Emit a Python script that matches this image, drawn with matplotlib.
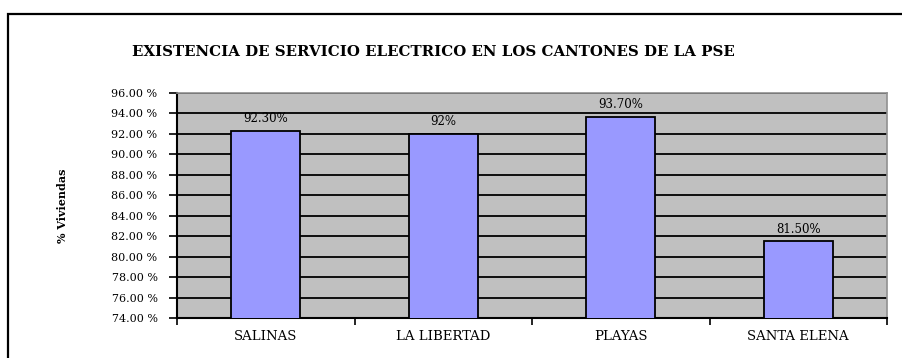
import matplotlib
matplotlib.use('Agg')
import matplotlib.pyplot as plt
from matplotlib.patches import Rectangle
import numpy as np

# datos
cantones = ['SALINAS', 'LA LIBERTAD', 'PLAYAS', 'SANTA ELENA']
viviendas = [92.3, 92.0, 93.7, 81.5]
etiquetas = ['92.30%', '92%', '93.70%', '81.50%']
yticks = [74, 76, 78, 80, 82, 84, 86, 88, 90, 92, 94, 96]

plt.rcParams['font.family'] = ['DejaVu Serif']

W, H = 902, 358
fig = plt.figure(figsize=(W / 100, H / 100), dpi=100)
fig.patch.set_facecolor('white')

# marco exterior del grafico
fig.patches.append(Rectangle((8 / W, -0.1), 1.2, 1.1 - 14 / H, transform=fig.transFigure,
                             fill=False, edgecolor='black', linewidth=1.6))

ax = fig.add_axes([177 / W, 1 - 318 / H, (887 - 177) / W, (318 - 93) / H])
ax.set_facecolor('#C0C0C0')

x = np.arange(len(cantones))
ax.bar(x, viviendas, width=0.39, color='#9999FF', edgecolor='black', linewidth=1.3, zorder=3)

for xi, v, t in zip(x, viviendas, etiquetas):
    ax.text(xi, v + 0.55, t, ha='center', va='bottom', fontsize=8.5, zorder=4)

ax.set_ylim(74, 96)
ax.set_xlim(-0.5, len(cantones) - 0.5)
ax.set_yticks(yticks)
ax.set_yticklabels(['%.2f %%' % v for v in yticks], fontsize=8)
ax.yaxis.grid(True, color='black', linewidth=1.3, zorder=1)
ax.set_axisbelow(True)

ax.set_xticks(np.arange(-0.5, len(cantones), 1.0))
ax.set_xticklabels([])
ax.set_xticks(x, minor=True)
ax.set_xticklabels(cantones, minor=True, fontsize=9.5)
ax.tick_params(axis='x', which='minor', length=0, pad=9)
ax.tick_params(axis='x', which='major', length=5, width=1.2, direction='out')
ax.tick_params(axis='y', length=6, width=1.2, direction='out', pad=8)

for s in ['left', 'bottom']:
    ax.spines[s].set_color('black')
    ax.spines[s].set_linewidth(1.5)
for s in ['top', 'right']:
    ax.spines[s].set_color('#909090')
    ax.spines[s].set_linewidth(1.2)

ax.set_ylabel('% Viviendas', fontsize=8, fontweight='bold')
ax.yaxis.set_label_coords((68 - 177) / (887 - 177), 0.5)

fig.text(433 / W, 1 - 52 / H, 'EXISTENCIA DE SERVICIO ELECTRICO EN LOS CANTONES DE LA PSE',
         ha='center', va='center', fontsize=10.8, fontweight='bold')

fig.savefig('out.png', dpi=100)
